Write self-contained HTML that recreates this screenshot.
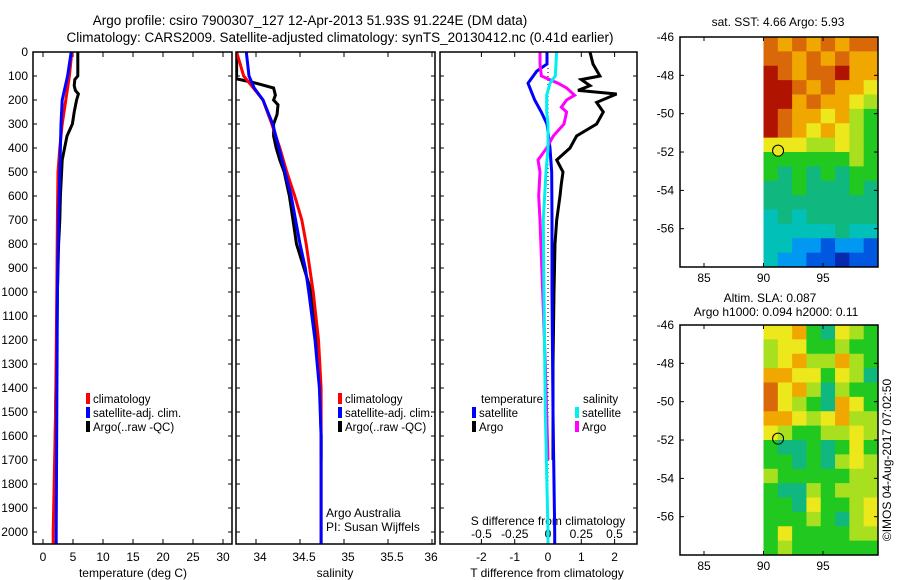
<!DOCTYPE html>
<html><head><meta charset="utf-8"><style>
body{margin:0;background:#fff;}
svg{display:block;font-family:"Liberation Sans",sans-serif;}
</style></head><body>
<svg id="fig" width="900" height="580" viewBox="0 0 900 580">
<text x="310" y="25" font-size="13.5" text-anchor="middle">Argo profile: csiro 7900307_127 12-Apr-2013 51.93S 91.224E (DM data)</text>
<text x="340" y="42" font-size="13.5" text-anchor="middle">Climatology: CARS2009. Satellite-adjusted climatology: synTS_20130412.nc (0.41d earlier)</text>
<text x="778" y="26" font-size="12" text-anchor="middle">sat. SST: 4.66 Argo: 5.93</text>
<text x="770" y="302" font-size="12" text-anchor="middle">Altim. SLA: 0.087</text>
<text x="776" y="316" font-size="12" text-anchor="middle">Argo h1000: 0.094 h2000: 0.11</text>
<text transform="translate(891,460) rotate(-90)" font-size="12" text-anchor="middle">©IMOS 04-Aug-2017 07:02:50</text>
</svg>
<script>
// ---- data ----
const depthTicks=[0,100,200,300,400,500,600,700,800,900,1000,1100,1200,1300,1400,1500,1600,1700,1800,1900,2000];
const tempTicks=[0,5,10,15,20,25,30];
const salTicks=[34,34.5,35,35.5,36];
const dTTicks=[-2,-1,0,1,2];
const dSTicks=[-0.5,-0.25,0,0.25,0.5];
const dSTickLabels=["-0.5","-0.25","0","0.25","0.5"];
const climDepth=[0,100,200,300,400,500,700,1000,1500,2000,2070];
const climT=[4.8,4.4,3.8,3.2,2.8,2.5,2.4,2.3,2.1,1.7,1.7];
const satT=[4.7,4.1,3.2,3.0,2.9,2.8,2.6,2.4,2.3,2.2,2.2];
const argoTDepth=[0,50,100,115,140,160,175,200,250,300,350,400,450,500,600,700,800,1000,1200,1500,1700];
const argoT=[5.8,5.8,5.8,5.3,5.2,5.4,5.9,5.6,5.2,4.9,4.0,3.6,3.2,3.1,2.9,2.8,2.6,2.4,2.3,2.1,2.0];
const climSDepth=[0,100,150,200,300,400,500,600,700,800,900,1000,1200,1400,1600,2070];
const climS=[33.78,33.86,33.97,34.08,34.18,34.27,34.35,34.44,34.52,34.57,34.61,34.65,34.71,34.74,34.74,34.74];
const satS=[33.89,33.92,33.98,34.08,34.19,34.26,34.33,34.40,34.45,34.5,34.56,34.6,34.67,34.72,34.74,34.74];
const argoSDepth=[0,100,110,130,150,180,200,220,260,300,350,400,450,500,600,700,800,1000,1200,1400,1600,1700];
const argoS=[33.78,33.78,33.76,34.0,34.2,34.22,34.2,34.25,34.24,34.2,34.2,34.23,34.27,34.32,34.38,34.42,34.46,34.63,34.69,34.73,34.74,34.74];
const argoDTDepth=[0,50,100,115,140,160,175,210,250,300,350,400,450,500,550,600,700,800,1000,1300,1700];
const argoDT=[1.26,1.35,1.56,1.0,1.26,0.9,2.06,1.46,1.66,1.46,0.86,0.66,0.26,0.45,0.4,0.36,0.26,0.21,0.18,0.15,0.15];
const satDTDepth=[0,50,80,130,200,250,300,400,500,700,1000,1500,2000,2070];
const satDT=[-0.03,-0.03,-0.34,-0.6,-0.4,-0.2,-0.03,0.06,0.11,0.12,0.12,0.15,0.2,0.2];
const satDSDepth=[0,50,100,130,180,250,300,400,500,700,1000,1500,2000,2070];
const satDS=[0.065,0.06,0.055,0.015,-0.01,-0.01,0.0,0.0,-0.015,-0.035,-0.03,-0.02,0,0];
const argoDSDepth=[0,50,100,130,150,180,200,230,250,300,350,400,450,500,600,700,1000,1300,1700];
const argoDS=[-0.06,-0.06,-0.05,0.075,0.14,0.2,0.14,0.1,0.14,0.12,0.04,-0.01,-0.075,-0.06,-0.07,-0.06,-0.04,-0.02,0.0];
const lonTicks=[85,90,95];
const latTicks=[-46,-48,-50,-52,-54,-56];
const floatLon=91.224, floatLat=-51.93;
const sstGrid=[
[9,8,9,8,9,8,9,9],[9,9,8,9,8,9,8,8],[10,9,8,9,9,10,8,8],[10,10,9,8,9,8,8,7],
[10,10,8,9,8,8,7,6],[10,9,8,8,7,8,6,5],[10,9,8,7,8,7,6,5],[7,7,7,6,6,7,6,5],
[5,5,5,5,5,5,6,5],[5,4,5,4,5,4,5,5],[4,4,5,4,4,4,5,4],[4,4,4,4,4,4,4,4],
[3,4,3,4,4,4,4,4],[3,3,3,3,3,4,3,3],[3,3,2,2,1,2,2,1],[3,2,2,1,1,0,1,1]];
const slaGrid=[
[7,7,8,5,4,7,6,5],[6,7,7,5,5,6,5,5],[6,7,8,6,6,8,6,5],[8,8,7,7,5,7,6,4],
[9,7,8,6,4,6,5,5],[9,7,6,5,4,8,7,5],[8,8,7,6,7,8,6,6],[7,6,5,5,6,6,7,6],
[5,4,4,5,4,5,7,5],[5,5,4,5,4,6,7,6],[6,5,5,5,5,5,6,6],[5,4,4,6,5,6,6,6],
[5,5,4,7,5,5,6,7],[5,5,5,6,5,4,6,7],[5,7,5,5,5,5,6,6],[5,6,5,5,5,5,5,5]];
const palette=["#0828b0","#0058e0","#0098f0","#00c0b8","#10b880","#20c820","#a8e020","#ece81c","#f0a800","#d86808","#b01400"];

// ---- helpers ----
const svg=document.getElementById('fig');
const NS="http://www.w3.org/2000/svg";
function mk(tag,attrs,parent){const e=document.createElementNS(NS,tag);for(const k in attrs)e.setAttribute(k,attrs[k]);(parent||svg).appendChild(e);return e;}
const TOP=52,BOT=544;
const yD=d=>TOP+0.24*d;
const xT=t=>43+6*t;
const xS=s=>256+88*(s-34);
const xDT=t=>548+33.3*t;
const xDS=s=>548+133*s;

const panels=[{x0:33,x1:232,id:'temp'},{x0:236,x1:435,id:'sal'},{x0:440,x1:637,id:'diff'}];
panels.forEach(p=>{
  const cp=mk('clipPath',{id:'clip-'+p.id});
  mk('rect',{x:p.x0,y:TOP,width:p.x1-p.x0,height:BOT-TOP},cp);
});

function frame(x0,y0,x1,y1,name){
  const r=mk('rect',{x:x0,y:y0,width:x1-x0,height:y1-y0,fill:'none',stroke:'#000','stroke-width':1.5});
  
  
}
function series(depths,vals,xf,color,clip,name){
  let pts=depths.map((d,i)=>xf(vals[i]).toFixed(1)+','+yD(d).toFixed(1)).join(' ');
  const pl=mk('polyline',{points:pts,fill:'none',stroke:color,'stroke-width':3,'clip-path':'url(#clip-'+clip+')'});
  
  
}
function txt(x,y,s,anchor,size,name){
  const t=mk('text',{x:x,y:y,'font-size':size||12,'text-anchor':anchor||'middle'});
  t.textContent=s;
  
  
  return t;
}
function legend(x,y,color,label,name){
  const r=mk('rect',{x:x,y:y-10,width:4,height:11,fill:color});
  
  
  txt(x+7,y,label,'start',11.5,name);
}

depthTicks.forEach(d=>{
  txt(28,yD(d)+4,String(d),'end',12,'depth-tick-label');
  panels.forEach(p=>{
    mk('line',{x1:p.x0,x2:p.x0+4,y1:yD(d),y2:yD(d),stroke:'#000'});
    mk('line',{x1:p.x1,x2:p.x1-4,y1:yD(d),y2:yD(d),stroke:'#000'});
  });
});
tempTicks.forEach(t=>{
  mk('line',{x1:xT(t),x2:xT(t),y1:TOP,y2:TOP+5,stroke:'#000'});
  mk('line',{x1:xT(t),x2:xT(t),y1:BOT,y2:BOT-5,stroke:'#000'});
  txt(xT(t),561,String(t),'middle',12,'temp-tick-label');
});
salTicks.forEach(s=>{
  const x=xS(s);
  if(x<435){mk('line',{x1:x,x2:x,y1:TOP,y2:TOP+5,stroke:'#000'});mk('line',{x1:x,x2:x,y1:BOT,y2:BOT-5,stroke:'#000'});}
  txt(Math.min(x+4,431),561,String(s),'middle',12,'salinity-tick-label');
});
dTTicks.forEach(t=>{
  const x=xDT(t);
  mk('line',{x1:x,x2:x,y1:TOP,y2:TOP+5,stroke:'#000'});
  mk('line',{x1:x,x2:x,y1:BOT,y2:BOT-5,stroke:'#000'});
  txt(x,561,String(t),'middle',12,'t-diff-tick-label');
});
dSTicks.forEach((s,i)=>txt(xDS(s),538,dSTickLabels[i],'middle',12,'s-diff-tick-label'));
txt(548,525,'S difference from climatology','middle',12,'s-diff-axis-title');
txt(133,577,'temperature (deg C)','middle',12,'temperature-axis-title');
txt(335,577,'salinity','middle',12,'salinity-axis-title');
txt(547,577,'T difference from climatology','middle',12,'t-diff-axis-title');

series(argoTDepth,argoT,xT,'#000','temp','argo-temperature-line');
series(climDepth,climT,xT,'#ff0000','temp','climatology-temperature-line');
series(climDepth,satT,xT,'#0000ff','temp','satellite-temperature-line');
series(argoSDepth,argoS,xS,'#000','sal','argo-salinity-line');
series(climSDepth,climS,xS,'#ff0000','sal','climatology-salinity-line');
series(climSDepth,satS,xS,'#0000ff','sal','satellite-salinity-line');
const z=mk('line',{x1:548,x2:548,y1:TOP,y2:BOT,stroke:'#000','stroke-dasharray':'1,3'});


series(argoDTDepth,argoDT,xDT,'#000','diff','argo-t-diff-line');
series(satDTDepth,satDT,xDT,'#0000ff','diff','satellite-t-diff-line');
series(argoDSDepth,argoDS,xDS,'#ff00ff','diff','argo-s-diff-line');
series(satDSDepth,satDS,xDS,'#00f0f0','diff','satellite-s-diff-line');

panels.forEach(p=>frame(p.x0,TOP,p.x1,BOT,p.id+'-panel-frame'));

legend(86,403,'#ff0000','climatology','temp-legend-climatology');
legend(86,417,'#0000ff','satellite-adj. clim.','temp-legend-satellite');
legend(86,431,'#000','Argo(..raw -QC)','temp-legend-argo');
legend(338,403,'#ff0000','climatology','sal-legend-climatology');
legend(338,417,'#0000ff','satellite-adj. clim.','sal-legend-satellite');
legend(338,431,'#000','Argo(..raw -QC)','sal-legend-argo');
txt(481,403,'temperature','start',11.5,'diff-legend-temperature-header');
legend(472,417,'#0000ff','satellite','diff-legend-t-satellite');
legend(472,431,'#000','Argo','diff-legend-t-argo');
txt(583,403,'salinity','start',11.5,'diff-legend-salinity-header');
legend(575,417,'#00f0f0','satellite','diff-legend-s-satellite');
legend(575,431,'#ff00ff','Argo','diff-legend-s-argo');
txt(326,517,'Argo Australia','start',12,'argo-australia-label');
txt(326,531,'PI: Susan Wijffels','start',12,'pi-label');

function map(y0,grid,name,circleFill){
  const x0=680,x1=878,y1=y0+230;
  const mx=lon=>704+(lon-85)*11.9;
  const my=lat=>y0+(-46-lat)*19.17;
  const cw=(x1-mx(90))/grid[0].length, ch=(y1-y0)/grid.length;
  grid.forEach((row,r)=>row.forEach((v,c)=>{
    const cell=mk('rect',{x:mx(90)+c*cw,y:y0+r*ch,width:cw+0.5,height:ch+0.5,fill:palette[v]});
    
    
  }));
  frame(x0,y0,x1,y1,name+'-frame');
  lonTicks.forEach(l=>{
    mk('line',{x1:mx(l),x2:mx(l),y1:y1,y2:y1-4,stroke:'#000'});
    mk('line',{x1:mx(l),x2:mx(l),y1:y0,y2:y0+4,stroke:'#000'});
    txt(mx(l),y1+15,String(l),'middle',12,name+'-lon-label');
  });
  latTicks.forEach(l=>{
    mk('line',{x1:x0,x2:x0+4,y1:my(l),y2:my(l),stroke:'#000'});
    mk('line',{x1:x1,x2:x1-4,y1:my(l),y2:my(l),stroke:'#000'});
    txt(674,my(l)+4,String(l),'end',12,name+'-lat-label');
  });
  const c=mk('circle',{cx:mx(floatLon),cy:my(floatLat),r:5.5,fill:circleFill,stroke:'#000','stroke-width':1});
  
  
}
map(37,sstGrid,'sst-map','#e8e820');
map(325,slaGrid,'sla-map','none');
</script>
</body></html>
